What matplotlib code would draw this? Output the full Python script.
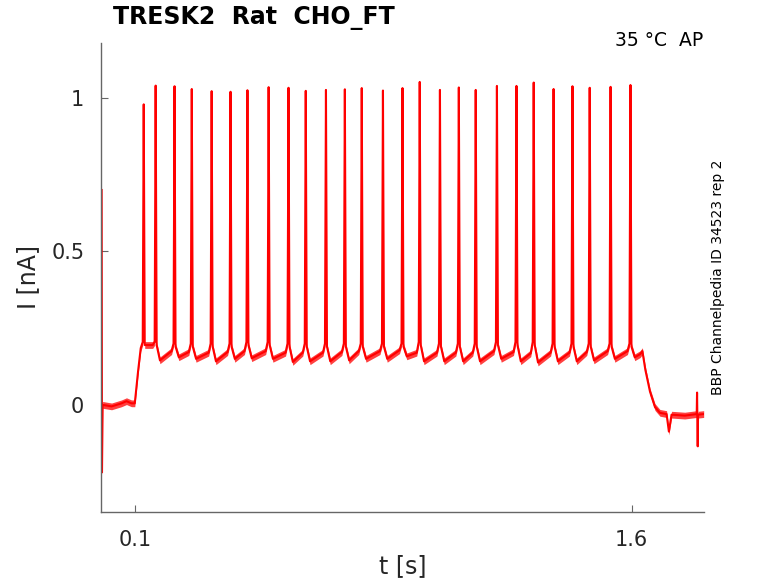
import matplotlib
matplotlib.use("Agg")
import matplotlib.pyplot as plt

# spike times [s] and peak currents [nA]
spike_t = [0.127, 0.163, 0.220, 0.272, 0.332, 0.389, 0.440, 0.504, 0.564,
           0.616, 0.677, 0.734, 0.785, 0.849, 0.908, 0.960, 1.021, 1.078,
           1.129, 1.193, 1.252, 1.304, 1.364, 1.421, 1.473, 1.536, 1.596]
spike_peak = [0.979, 1.040, 1.038, 1.029, 1.022, 1.020, 1.025, 1.035, 1.033,
              1.023, 1.026, 1.028, 1.032, 1.024, 1.032, 1.052, 1.026, 1.034,
              1.026, 1.039, 1.039, 1.050, 1.029, 1.038, 1.033, 1.036, 1.042]
# current level just before each spike and the trough just after it
pre_level = [0.205, 0.205, 0.200, 0.200, 0.200, 0.200, 0.205, 0.205, 0.200,
             0.200, 0.200, 0.200, 0.200, 0.200, 0.200, 0.205, 0.200, 0.200,
             0.200, 0.205, 0.205, 0.205, 0.200, 0.200, 0.200, 0.200, 0.200]
# level where the slow rise starts to steepen before each spike
ramp_level = [0.185, 0.195, 0.175, 0.172, 0.170, 0.172, 0.175, 0.175, 0.170,
              0.170, 0.170, 0.172, 0.175, 0.175, 0.178, 0.170, 0.170, 0.170,
              0.170, 0.175, 0.172, 0.168, 0.170, 0.170, 0.172, 0.175, 0.175]
trough_level = [0.195, 0.145, 0.155, 0.150, 0.142, 0.150, 0.152, 0.150, 0.140,
                0.142, 0.142, 0.145, 0.150, 0.150, 0.158, 0.142, 0.142, 0.142,
                0.142, 0.150, 0.142, 0.138, 0.142, 0.142, 0.145, 0.150, 0.155]

# before the step: capacitive transient, holding baseline, step onset
lead_t = [0.000, 0.001, 0.003, 0.030, 0.060, 0.075, 0.090, 0.100, 0.110]
lead_i = [0.700, -0.220, 0.000, -0.005, 0.005, 0.012, 0.005, 0.005, 0.110]

# after the last spike: relaxation back to baseline and end artefact
tail_t = [1.625, 1.632, 1.641, 1.655, 1.670, 1.685, 1.705, 1.712, 1.720,
          1.760, 1.796, 1.797, 1.799, 1.800, 1.817]
tail_i = [0.165, 0.175, 0.114, 0.043, -0.007, -0.026, -0.030, -0.087, -0.032,
          -0.035, -0.030, 0.040, -0.135, -0.032, -0.030]

t, cur = list(lead_t), list(lead_i)
for ts, pk, pre, rp, tr in zip(spike_t, spike_peak, pre_level, ramp_level,
                               trough_level):
    t += [ts - 0.009, ts - 0.003, ts, ts + 0.003, ts + 0.013]
    cur += [rp, pre, pk, pre - 0.01, tr]
t += tail_t
cur += tail_i

fig = plt.figure(figsize=(7.78, 5.83), dpi=100)
ax = fig.add_axes([0.1298, 0.1218, 0.7751, 0.8045])

noise = 0.011
ax.fill_between(t, [c - noise for c in cur], [c + noise for c in cur],
                color="#ff0000", alpha=0.75, lw=0)
ax.plot(t, cur, color="#ff0000", lw=1.5)

ax.set_xlim(-0.002, 1.818)
ax.set_ylim(-0.349, 1.179)
ax.set_xticks([0.1, 1.6])
ax.set_xticklabels(["0.1", "1.6"])
ax.set_yticks([0, 0.5, 1])
ax.set_yticklabels(["0", "0.5", "1"])

for side in ["top", "right"]:
    ax.spines[side].set_visible(False)
for side in ["left", "bottom"]:
    ax.spines[side].set_color("#666666")
    ax.spines[side].set_linewidth(1.0)
ax.tick_params(direction="in", length=5, color="#666666", labelsize=15,
               labelcolor="#262626")
ax.tick_params(axis="y", pad=12)
ax.tick_params(axis="x", pad=13)

ax.set_xlabel("t [s]", fontsize=17, color="#262626")
ax.set_ylabel("I [nA]", fontsize=17, color="#262626")
ax.xaxis.set_label_coords(0.5, -0.089)
ax.yaxis.set_label_coords(-0.101, 0.5)

fig.text(113 / 778, 1 - 18 / 583, "TRESK2  Rat  CHO_FT", fontsize=17,
         fontweight="bold", ha="left", va="center")
fig.text(703 / 778, 1 - 40 / 583, "35 °C  AP", fontsize=13.5,
         ha="right", va="center")
fig.text(718 / 778, 1 - 277 / 583, "BBP Channelpedia ID 34523 rep 2",
         fontsize=10, rotation=90, ha="center", va="center")

fig.savefig("out.png", dpi=100)
